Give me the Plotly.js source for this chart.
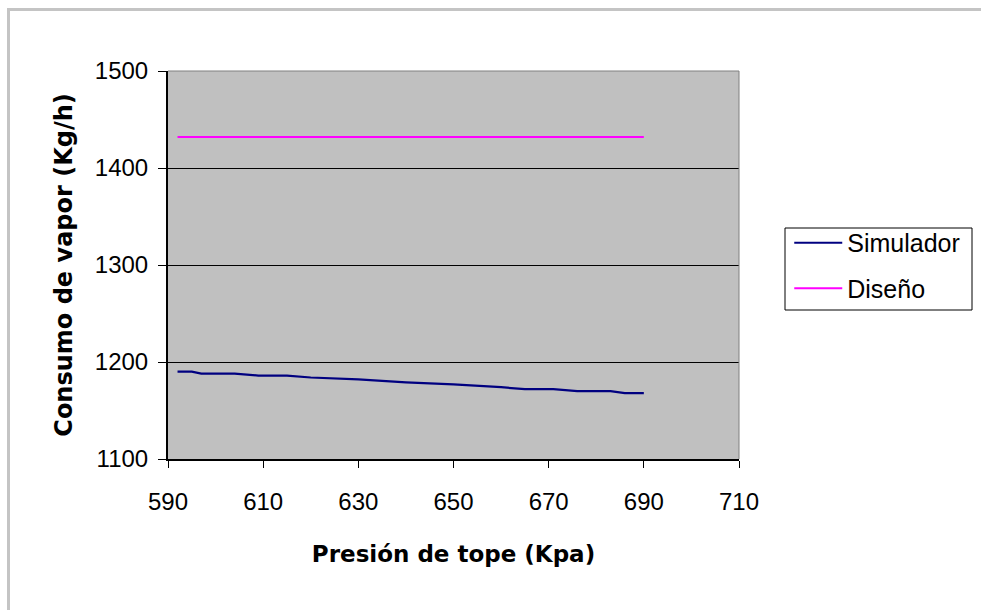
<!DOCTYPE html>
<html>
<head>
<meta charset="utf-8">
<script src="https://cdn.plot.ly/plotly-3.0.1.min.js"></script>
<style>
html,body{margin:0;padding:0;background:#fff;overflow:hidden;}
#frame{position:absolute;left:7px;top:8px;width:1000px;height:700px;border:3px solid #c4c4c4;box-sizing:border-box;pointer-events:none;z-index:5;}
#chart{position:absolute;left:0;top:0;width:981px;height:610px;}
</style>
</head>
<body>
<div id="chart"></div>
<div id="frame"></div>
<script>
const simPresion = [592, 595, 597, 604, 609, 615, 620, 630, 640, 650, 660, 665, 671, 676, 683, 686, 690];
const simConsumo = [1190, 1190, 1188, 1188, 1186, 1186, 1184, 1182, 1179, 1177, 1174, 1172, 1172, 1170, 1170, 1168, 1168];
const disPresion = [592, 690];
const disConsumo = [1432, 1432];
const xTicks = [590, 610, 630, 650, 670, 690, 710];
const yTicks = [1100, 1200, 1300, 1400, 1500];

const font = 'Liberation Sans, Arial, sans-serif';
const boldFont = 'DejaVu Sans, Liberation Sans, sans-serif';

const traces = [
  {x: simPresion, y: simConsumo, type: 'scatter', mode: 'lines', name: 'Simulador',
   line: {color: '#000080', width: 2.2}, legendgroup: 'a'},
  {x: disPresion, y: disConsumo, type: 'scatter', mode: 'lines', name: 'Diseño',
   line: {color: '#ff00ff', width: 2}, legendgroup: 'b'}
];

const layout = {
  width: 981, height: 610,
  margin: {l: 168, r: 242, t: 71, b: 151, pad: 0},
  paper_bgcolor: '#ffffff',
  plot_bgcolor: '#c0c0c0',
  font: {family: font, size: 24, color: '#000'},
  showlegend: true,
  legend: {x: 1.088, y: 0.616, xanchor: 'left', yanchor: 'top',
           bgcolor: 'rgba(0,0,0,0)', borderwidth: 0,
           font: {family: font, size: 25, color: '#000'},
           itemwidth: 48,
           traceorder: 'grouped', tracegroupgap: 10},
  xaxis: {range: [590, 710], tickvals: xTicks, ticktext: xTicks.map(String),
          showgrid: false, zeroline: false, showline: true, linecolor: '#000', linewidth: 2,
          ticks: 'outside', ticklen: 7, tickcolor: '#000', tickwidth: 1,
          ticklabelstandoff: 13,
          tickfont: {family: font, size: 24}, mirror: false,
          title: {text: '<b>Presión de tope (Kpa)</b>', font: {family: boldFont, size: 23}, standoff: 32}},
  yaxis: {range: [1100, 1500], tickvals: yTicks, ticktext: yTicks.map(String),
          showgrid: true, gridcolor: '#000', gridwidth: 1, zeroline: false,
          showline: true, linecolor: '#000', linewidth: 2,
          ticks: 'outside', ticklen: 8, tickcolor: '#000', tickwidth: 1,
          ticklabelstandoff: 5,
          tickfont: {family: font, size: 24},
          title: {text: '<b>Consumo de vapor (Kg/h)</b>', font: {family: boldFont, size: 24}, standoff: 15}},
  shapes: [
    {type: 'line', xref: 'paper', yref: 'paper', x0: 0, x1: 1, y0: 1, y1: 1, line: {color: '#808080', width: 1}},
    {type: 'line', xref: 'paper', yref: 'paper', x0: 1, x1: 1, y0: 0, y1: 1, line: {color: '#808080', width: 1}},
    {type: 'rect', xref: 'paper', yref: 'paper', layer: 'below',
     x0: (785 - 168) / 571, x1: (972 - 168) / 571, y0: (459 - 310) / 388, y1: (459 - 228) / 388,
     line: {color: '#000', width: 1}, fillcolor: '#ffffff'}
  ]
};

Plotly.newPlot('chart', traces, layout, {displayModeBar: false, staticPlot: true});
</script>
</body>
</html>
